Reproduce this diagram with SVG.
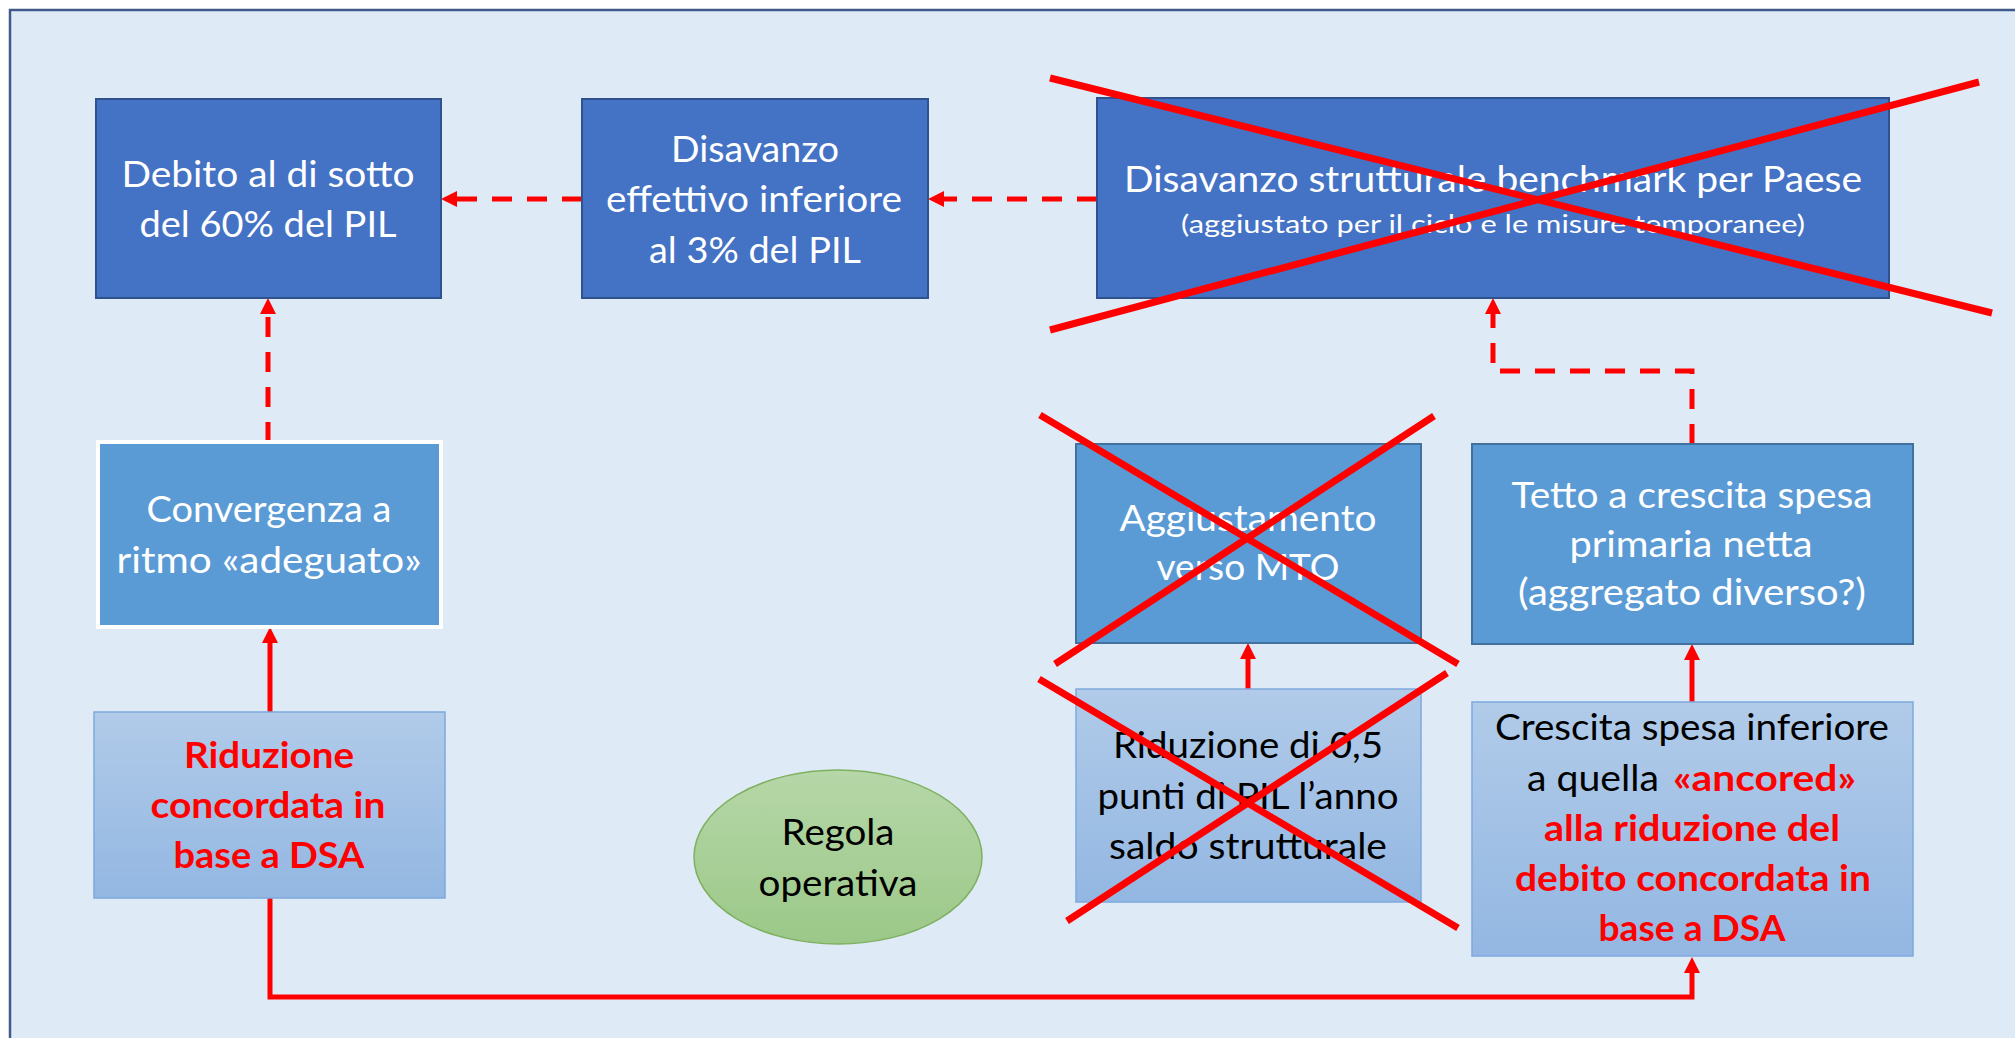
<svg xmlns="http://www.w3.org/2000/svg" width="2015" height="1038" viewBox="0 0 2015 1038">
<style>
.t{font-family:Lato,"Open Sans","Liberation Sans",sans-serif;font-size:36px;text-anchor:middle}
.w{fill:#FFFFFF}
.k{fill:#000000}
.r{fill:#FF0000;font-weight:bold}
.s{font-size:25px}
.dark{fill:#4472C4;stroke:#2F528F;stroke-width:2}
.mid{fill:#5B9BD5;stroke:#41719C;stroke-width:2}
.light{fill:url(#gLight);stroke:#7FA9DD;stroke-width:1.5}
.dash{fill:none;stroke:#FF0000;stroke-width:5;stroke-dasharray:20 15}
.solid{fill:none;stroke:#FF0000;stroke-width:5}
.x{stroke:#FF0000;stroke-width:7;stroke-linecap:butt}
</style>
<defs>
<linearGradient id="gLight" x1="0" y1="0" x2="0" y2="1">
<stop offset="0" stop-color="#B1CBE9"/>
<stop offset="1" stop-color="#93B7E2"/>
</linearGradient>
<linearGradient id="gGreen" x1="0" y1="0" x2="0" y2="1">
<stop offset="0" stop-color="#B6D7A8"/>
<stop offset="1" stop-color="#9BC888"/>
</linearGradient>
<marker id="ah" markerUnits="userSpaceOnUse" markerWidth="16" markerHeight="16" refX="0" refY="8" orient="auto" viewBox="0 0 16 16">
<path d="M0,0 L16,8 L0,16 z" fill="#FF0000"/>
</marker>
</defs>
<rect x="0" y="0" width="2015" height="1038" fill="#FFFFFF"/>
<rect x="10" y="10" width="2100" height="1100" fill="#DEEBF7" stroke="#41598B" stroke-width="2.5"/>

<g id="connectors">
<path class="dash" d="M582,199 H457" marker-end="url(#ah)"/>
<path class="dash" d="M1097,199 H944" marker-end="url(#ah)"/>
<path class="dash" d="M268,442 V314" marker-end="url(#ah)"/>
<path class="dash" d="M1692,444 V371 H1493 V314" marker-end="url(#ah)"/>
<path class="solid" d="M270,712 V643" marker-end="url(#ah)"/>
<path class="solid" d="M1248,689 V659" marker-end="url(#ah)"/>
<path class="solid" d="M1692,702 V660" marker-end="url(#ah)"/>
<path class="solid" d="M270,898 V997 H1692 V973" marker-end="url(#ah)"/>
</g>

<g id="debito">
<rect class="dark" x="96" y="99" width="345" height="199"/>
<text class="t w" x="268" y="187" textLength="293" lengthAdjust="spacingAndGlyphs">Debito al di sotto</text>
<text class="t w" x="268" y="237" textLength="257" lengthAdjust="spacingAndGlyphs">del 60% del PIL</text>
</g>

<g id="disavanzo-effettivo">
<rect class="dark" x="582" y="99" width="346" height="199"/>
<text class="t w" x="755" y="162" textLength="168" lengthAdjust="spacingAndGlyphs">Disavanzo</text>
<text class="t w" x="754" y="212" textLength="296" lengthAdjust="spacingAndGlyphs">effettivo inferiore</text>
<text class="t w" x="755" y="263" textLength="212" lengthAdjust="spacingAndGlyphs">al 3% del PIL</text>
</g>

<g id="disavanzo-strutturale">
<rect class="dark" x="1097" y="98" width="792" height="200"/>
<text class="t w" x="1493" y="192" textLength="738" lengthAdjust="spacingAndGlyphs">Disavanzo strutturale benchmark per Paese</text>
<text class="t w s" x="1493" y="233" textLength="624" lengthAdjust="spacingAndGlyphs">(aggiustato per il ciclo e le misure temporanee)</text>
</g>

<g id="convergenza">
<rect x="98" y="442" width="343" height="185" fill="#5B9BD5" stroke="#FFFFFF" stroke-width="4"/>
<text class="t w" x="269" y="522" textLength="245" lengthAdjust="spacingAndGlyphs">Convergenza a</text>
<text class="t w" x="269" y="573" textLength="305" lengthAdjust="spacingAndGlyphs">ritmo «adeguato»</text>
</g>

<g id="riduzione-concordata">
<rect class="light" x="94" y="712" width="351" height="186"/>
<text class="t r" x="269" y="768" textLength="170" lengthAdjust="spacingAndGlyphs">Riduzione</text>
<text class="t r" x="268" y="818" textLength="235" lengthAdjust="spacingAndGlyphs">concordata in</text>
<text class="t r" x="269" y="868" textLength="191" lengthAdjust="spacingAndGlyphs">base a DSA</text>
</g>

<g id="regola">
<ellipse cx="838" cy="857" rx="144" ry="87" fill="url(#gGreen)" stroke="#7FB060" stroke-width="1.5"/>
<text class="t k" x="838" y="845" textLength="113" lengthAdjust="spacingAndGlyphs">Regola</text>
<text class="t k" x="838" y="896" textLength="159" lengthAdjust="spacingAndGlyphs">operativa</text>
</g>

<g id="aggiustamento">
<rect class="mid" x="1076" y="444" width="345" height="199"/>
<text class="t w" x="1248" y="531" textLength="257" lengthAdjust="spacingAndGlyphs">Aggiustamento</text>
<text class="t w" x="1248" y="580" textLength="183" lengthAdjust="spacingAndGlyphs">verso MTO</text>
</g>

<g id="tetto">
<rect class="mid" x="1472" y="444" width="441" height="200"/>
<text class="t w" x="1692" y="508" textLength="361" lengthAdjust="spacingAndGlyphs">Tetto a crescita spesa</text>
<text class="t w" x="1691" y="557" textLength="243" lengthAdjust="spacingAndGlyphs">primaria netta</text>
<text class="t w" x="1692" y="605" textLength="348" lengthAdjust="spacingAndGlyphs">(aggregato diverso?)</text>
</g>

<g id="riduzione-05">
<rect class="light" x="1076" y="689" width="345" height="213"/>
<text class="t k" x="1248" y="758" textLength="270" lengthAdjust="spacingAndGlyphs">Riduzione di 0,5</text>
<text class="t k" x="1248" y="809" textLength="301" lengthAdjust="spacingAndGlyphs">punti di PIL l’anno</text>
<text class="t k" x="1248" y="859" textLength="278" lengthAdjust="spacingAndGlyphs">saldo strutturale</text>
</g>

<g id="crescita">
<rect class="light" x="1472" y="702" width="441" height="254"/>
<text class="t k" x="1692" y="740" textLength="394" lengthAdjust="spacingAndGlyphs">Crescita spesa inferiore</text>
<text class="t k" x="1527" y="791" style="text-anchor:start" textLength="132" lengthAdjust="spacingAndGlyphs">a quella</text>
<text class="t r" x="1673" y="791" style="text-anchor:start" textLength="183" lengthAdjust="spacingAndGlyphs">«ancored»</text>
<text class="t r" x="1692" y="841" textLength="296" lengthAdjust="spacingAndGlyphs">alla riduzione del</text>
<text class="t r" x="1693" y="891" textLength="356" lengthAdjust="spacingAndGlyphs">debito concordata in</text>
<text class="t r" x="1692" y="941" textLength="187" lengthAdjust="spacingAndGlyphs">base a DSA</text>
</g>

<g id="strikes">
<line class="x" x1="1050" y1="78" x2="1992" y2="313"/>
<line class="x" x1="1050" y1="330" x2="1979" y2="82"/>
<line class="x" x1="1040" y1="415" x2="1458" y2="664"/>
<line class="x" x1="1055" y1="664" x2="1434" y2="416"/>
<line class="x" x1="1039" y1="679" x2="1458" y2="928"/>
<line class="x" x1="1067" y1="921" x2="1447" y2="673"/>
</g>
</svg>
